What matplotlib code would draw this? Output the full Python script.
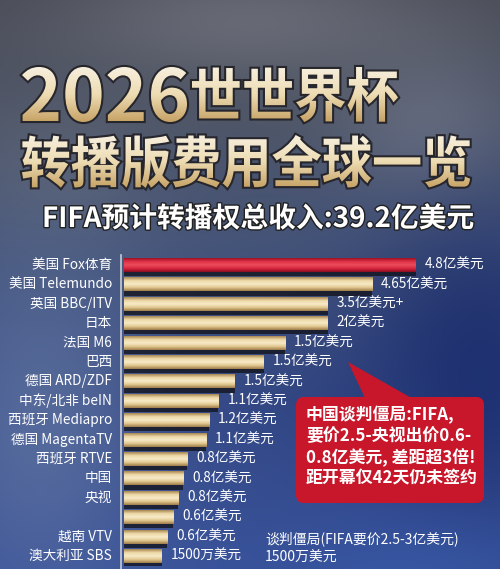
import numpy as np
import matplotlib
matplotlib.use('Agg')
import matplotlib.pyplot as plt
from matplotlib.patches import FancyBboxPatch, Polygon, PathPatch
from matplotlib.textpath import TextPath
from matplotlib.font_manager import FontProperties
from matplotlib.transforms import Affine2D
import matplotlib.patheffects as pe

plt.rcParams['font.family'] = ['Noto Sans CJK SC', 'DejaVu Sans']

# data
broadcasters = ['美国 Fox体育', '美国 Telemundo', '英国 BBC/ITV', '日本', '法国 M6', '巴西',
                '德国 ARD/ZDF', '中东/北非 beIN', '西班牙 Mediapro', '德国 MagentaTV',
                '西班牙 RTVE', '中国', '央视', '', '越南 VTV', '澳大利亚 SBS']
fee_labels = ['4.8亿美元', '4.65亿美元', '3.5亿美元+', '2亿美元', '1.5亿美元', '1.5亿美元',
              '1.5亿美元', '1.1亿美元', '1.2亿美元', '1.1亿美元', '0.8亿美元', '0.8亿美元',
              '0.8亿美元', '0.6亿美元', '0.6亿美元', '1500万美元']
# bar lengths as drawn in the infographic (not to scale with the fees)
bar_lengths = [4.80, 4.08, 3.35, 3.35, 2.65, 2.30, 1.82, 1.55, 1.40, 1.35,
               1.04, 0.97, 0.89, 0.81, 0.71, 0.62]
highlight = 0

title_num = '2026'
title_1 = '世世界杯'
title_2 = '转播版费用全球一览'
subtitle = 'FIFA预计转播权总收入:39.2亿美元'
callout = '中国谈判僵局:FIFA,\n要价2.5-央视出价0.6-\n0.8亿美元, 差距超3倍!\n距开幕仅42天仍未签约'
footnote = '谈判僵局(FIFA要价2.5-3亿美元)\n1500万美元'

W, H = 500, 569
fig = plt.figure(figsize=(W / 100, H / 100), dpi=100)

def px(x, y):
    return x / W, 1 - y / H

# background
bg = fig.add_axes([0, 0, 1, 1])
bg.set_axis_off()
yy, xx = np.mgrid[0:H, 0:W].astype(float)
stops_y = [0, 120, 240, 400, 569]
stops_c = np.array([[0.28, 0.29, 0.33], [0.30, 0.33, 0.40], [0.27, 0.33, 0.47],
                    [0.20, 0.28, 0.52], [0.22, 0.32, 0.60]])
img = np.stack([np.interp(yy, stops_y, stops_c[:, k]) for k in range(3)], axis=-1)

def blob(cx, cy, sx, sy, col, a):
    g = np.exp(-(((xx - cx) / sx) ** 2 + ((yy - cy) / sy) ** 2))[..., None] * a
    return img * (1 - g) + np.array(col) * g

img = blob(250, 20, 200, 60, [0.52, 0.53, 0.57], 0.5)
img = blob(430, 130, 90, 80, [0.52, 0.54, 0.60], 0.45)
img = blob(60, 170, 90, 70, [0.43, 0.45, 0.50], 0.35)
img = blob(40, 420, 110, 170, [0.42, 0.50, 0.66], 0.6)
img = blob(480, 360, 120, 160, [0.09, 0.16, 0.42], 0.75)
img = blob(420, 569, 120, 60, [0.22, 0.36, 0.68], 0.5)
bg.imshow(np.clip(img, 0, 1), extent=[0, W, H, 0], aspect='auto', zorder=0)

# titles: gold gradient text fitted to the box it fills in the picture
title_fp = FontProperties(family='Noto Sans CJK SC', weight='bold', size=40)
tg = np.linspace(0, 1, 60)
gstops = np.array([[0.97, 0.94, 0.87], [0.93, 0.86, 0.70], [0.78, 0.64, 0.40]])
gold_img = np.stack([np.interp(tg, [0, 0.5, 1], gstops[:, k]) for k in range(3)], -1)[:, None, :]

def gold_text(s, x0, y0, x1, y1):
    tp = TextPath((0, 0), s, prop=title_fp)
    e = tp.get_extents()
    tr = (Affine2D().translate(-e.x0, -e.y0)
          .scale((x1 - x0) / e.width, -(y1 - y0) / e.height)
          .translate(x0, y1) + bg.transData)
    bg.add_patch(PathPatch(tp, transform=tr, facecolor='#26262c', edgecolor='#26262c',
                           lw=3, zorder=2))
    im = bg.imshow(gold_img, extent=[x0, x1, y1, y0], aspect='auto', zorder=3,
                   interpolation='bilinear')
    im.set_clip_path(tp, tr)

gold_text(title_num, 22, 67, 187, 122)
gold_text(title_1, 192, 67, 398, 122)
gold_text(title_2, 22, 135, 470, 188)
bg.set_xlim(0, W)
bg.set_ylim(H, 0)

fig.text(*px(42, 219), subtitle, fontsize=20, fontweight='bold', color='white',
         ha='left', va='center', path_effects=[pe.withStroke(linewidth=2, foreground='#222')])

# bars
n = len(broadcasters)
top, bot = 255.3, 565.7
ax = fig.add_axes([124 / W, 1 - bot / H, (W - 124) / W, (bot - top) / H])
ax.set_axis_off()

ypos = np.arange(n)
bh = 0.72
gold_grad = np.array([[0.66, 0.53, 0.32], [0.93, 0.85, 0.66], [0.97, 0.92, 0.78],
                      [0.88, 0.78, 0.56], [0.62, 0.49, 0.29]])
red_grad = np.array([[0.62, 0.06, 0.14], [0.88, 0.20, 0.28], [0.92, 0.30, 0.36],
                     [0.84, 0.15, 0.24], [0.55, 0.05, 0.12]])
ax.barh(ypos + 0.22, bar_lengths, height=bh, color='#111118', alpha=0.75, zorder=1)
bars = ax.barh(ypos, bar_lengths, height=bh, color='none', zorder=2)
t = np.linspace(0, 1, 40)
for i, b in enumerate(bars):
    grad = red_grad if i == highlight else gold_grad
    col = np.stack([np.interp(t, np.linspace(0, 1, 5), grad[:, k]) for k in range(3)], -1)
    im = ax.imshow(col[:, None, :], extent=[0, bar_lengths[i], i + bh / 2, i - bh / 2],
                   aspect='auto', zorder=3, interpolation='bilinear')
    im.set_clip_path(b)
    ax.annotate(fee_labels[i], (bar_lengths[i], i), xytext=(6.5, 0),
                textcoords='offset points', va='center', ha='left',
                fontsize=9.8, fontweight='medium', color='white', zorder=5)
    ax.annotate(broadcasters[i], (0, i), xytext=(-8.5, 0), textcoords='offset points',
                va='center', ha='right', fontsize=9.8, fontweight='medium', color='white',
                annotation_clip=False, zorder=5)
ax.set_xlim(0, (W - 124) * 4.8 / 292)
ax.set_ylim(n - 0.5, -0.5)
fig.add_artist(plt.Line2D([121 / W, 121 / W], [0, 1 - 255 / H], color='#c8ccd6',
                          lw=1.2, transform=fig.transFigure))

# callout
red = '#c8172b'
bx0, by0, bx1, by1 = 296, 397, 484, 503
fig.patches.append(Polygon([px(348, 362), px(366, 400), px(415, 400)], closed=True,
                           transform=fig.transFigure, facecolor=red, edgecolor='none'))
fig.patches.append(FancyBboxPatch(px(bx0, by1), (bx1 - bx0) / W, (by1 - by0) / H,
                                  boxstyle='round,pad=0,rounding_size=0.015',
                                  transform=fig.transFigure, facecolor=red,
                                  edgecolor='none'))
fig.text(*px(306, 447), callout, fontsize=12.2, fontweight='bold', color='white',
         ha='left', va='center', linespacing=1.2)

fig.text(*px(265, 548), footnote, fontsize=10, fontweight='medium', color='white',
         ha='left', va='center', linespacing=1.35)

fig.savefig('out.png', dpi=100)
